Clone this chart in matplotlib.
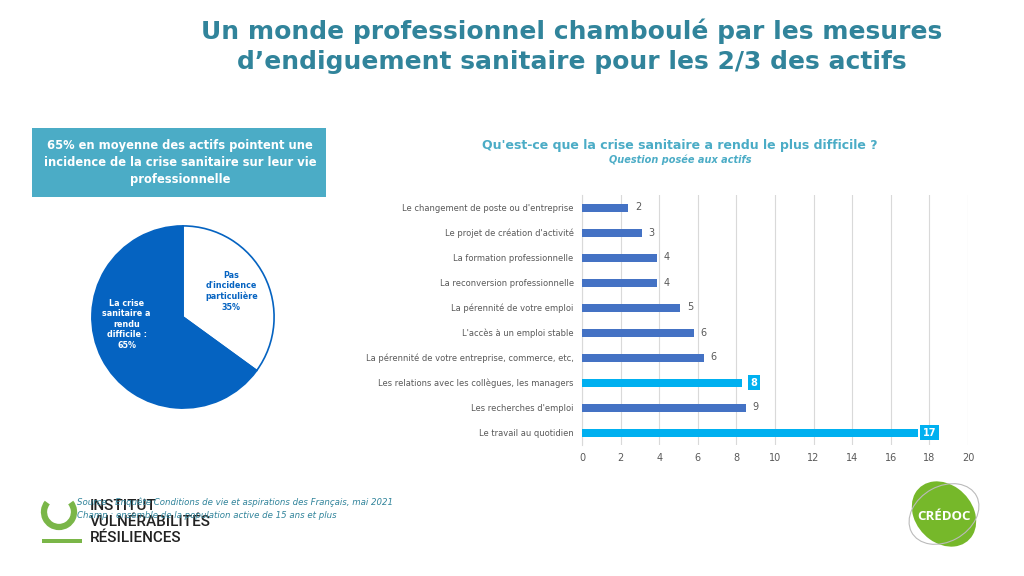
import numpy as np
import matplotlib
matplotlib.use("Agg")
import matplotlib.pyplot as plt
from matplotlib.patches import Rectangle, Arc, Ellipse

# data
categories = [
    "Le changement de poste ou d'entreprise",
    "Le projet de création d'activité",
    "La formation professionnelle",
    "La reconversion professionnelle",
    "La pérennité de votre emploi",
    "L'accès à un emploi stable",
    "La pérennité de votre entreprise, commerce, etc,",
    "Les relations avec les collègues, les managers",
    "Les recherches d'emploi",
    "Le travail au quotidien",
]
values = [2.4, 3.1, 3.9, 3.9, 5.1, 5.8, 6.3, 8.3, 8.5, 17.4]
value_labels = ["2", "3", "4", "4", "5", "6", "6", "8", "9", "17"]
highlight = [False, False, False, False, False, False, False, True, False, True]
pie_values = [35, 65]
pie_labels = ["Pas\nd'incidence\nparticulière\n35%", "La crise\nsanitaire a\nrendu\ndifficile :\n65%"]

TEAL = "#31849B"
BLUE = "#4472C4"
CYAN = "#00B0F0"
PIE_BLUE = "#0563C1"
GREY = "#595959"

fig = plt.figure(figsize=(10.24, 5.76), dpi=100)
W, H = 1024, 576

def fx(px):
    return px / W

def fy(py):
    return 1 - py / H

# title
fig.text(fx(572), fy(31), "Un monde professionnel chamboulé par les mesures",
         ha="center", va="center", fontsize=18, fontweight="bold", color=TEAL)
fig.text(fx(572), fy(62), "d\u2019endiguement sanitaire pour les 2/3 des actifs",
         ha="center", va="center", fontsize=18, fontweight="bold", color=TEAL)

# banner
fig.patches.append(Rectangle((fx(32), fy(197)), fx(294), (197 - 128) / H,
                             transform=fig.transFigure, facecolor="#4BACC6",
                             edgecolor="none"))
fig.text(fx(180), fy(162), "65% en moyenne des actifs pointent une\nincidence de la crise sanitaire sur leur vie\nprofessionnelle",
         ha="center", va="center", fontsize=8.3, fontweight="bold", color="white",
         linespacing=1.4)

# pie
ax_pie = fig.add_axes([fx(91), fy(409), fx(184), 184 / H])
wedges, _ = ax_pie.pie(pie_values, colors=["white", PIE_BLUE], startangle=90,
                       counterclock=False,
                       wedgeprops=dict(edgecolor=PIE_BLUE, linewidth=1.2))
ax_pie.set_xlim(-1.01, 1.01)
ax_pie.set_ylim(-1.01, 1.01)
ax_pie.text(0.53, 0.28, pie_labels[0], ha="center", va="center", fontsize=5.8,
            fontweight="bold", color=PIE_BLUE, linespacing=1.2)
ax_pie.text(-0.62, -0.08, pie_labels[1], ha="center", va="center", fontsize=5.8,
            fontweight="bold", color="white", linespacing=1.2)
ax_pie.set_aspect("equal")

# bar chart
ax = fig.add_axes([fx(582), fy(445), fx(386), (445 - 195) / H])
y = np.arange(len(categories))
colors = [CYAN if h else BLUE for h in highlight]
ax.barh(y, values, height=0.32, color=colors, zorder=3)
ax.set_ylim(len(categories) - 0.5, -0.5)
ax.set_xlim(0, 20)
ax.set_xticks(np.arange(0, 21, 2))
ax.set_yticks(y)
ax.set_yticklabels(categories, fontsize=6, color=GREY)
ax.tick_params(axis="x", labelsize=7, colors=GREY, length=0, pad=6)
ax.tick_params(axis="y", length=0, pad=6)
ax.grid(axis="x", color="#D9D9D9", lw=0.8, zorder=0)
for s in ["top", "right", "bottom"]:
    ax.spines[s].set_visible(False)
ax.spines["left"].set_color("#D9D9D9")
for yi, v, lab, h in zip(y, values, value_labels, highlight):
    if h:
        ax.text(v + 0.6, yi, lab, ha="center", va="center", fontsize=7,
                fontweight="bold", color="white",
                bbox=dict(boxstyle="square,pad=0.25", facecolor=CYAN, edgecolor="none"))
    else:
        ax.text(v + 0.5, yi, lab, ha="center", va="center", fontsize=7, color=GREY)

fig.text(fx(680), fy(145), "Qu'est-ce que la crise sanitaire a rendu le plus difficile ?",
         ha="center", va="center", fontsize=9, fontweight="bold", color="#4BACC6")
fig.text(fx(680), fy(160), "Question posée aux actifs",
         ha="center", va="center", fontsize=7, fontweight="bold", style="italic",
         color="#4BACC6")

# logo left
fig.patches.append(Arc((fx(59), fy(512)), 30 / W, 30 / H, theta1=125, theta2=55,
                       transform=fig.transFigure, color="#7AB648", lw=4.5))
fig.patches.append(Rectangle((fx(42), fy(543)), fx(40), 4 / H,
                             transform=fig.transFigure, facecolor="#7AB648"))
for i, t in enumerate(["INSTITUT", "VULNÉRABILITÉS", "RÉSILIENCES"]):
    fig.text(fx(90), fy(506 + i * 16), t, ha="left", va="center", fontsize=11,
             color="#222222", family="Roboto", fontweight="medium")

# source
fig.text(fx(77), fy(502), "Source : Enquête Conditions de vie et aspirations des Français, mai 2021",
         ha="left", va="center", fontsize=6.2, style="italic", color=TEAL)
fig.text(fx(77), fy(516), "Champ : ensemble de la population active de 15 ans et plus",
         ha="left", va="center", fontsize=6.2, style="italic", color=TEAL)

# credoc logo
fig.patches.append(Ellipse((fx(944), fy(514)), 62 / W, 66 / H, angle=10,
                           transform=fig.transFigure, facecolor="#76B82A",
                           edgecolor="none"))
fig.patches.append(Ellipse((fx(944), fy(514)), 66 / W, 62 / H, angle=-15,
                           transform=fig.transFigure, facecolor="none",
                           edgecolor="#BBBBBB", lw=0.8))
fig.text(fx(944), fy(517), "CRÉDOC", ha="center", va="center", fontsize=9.5,
         color="white", fontweight="bold", family="Open Sans")

fig.savefig("out.png", dpi=100)
